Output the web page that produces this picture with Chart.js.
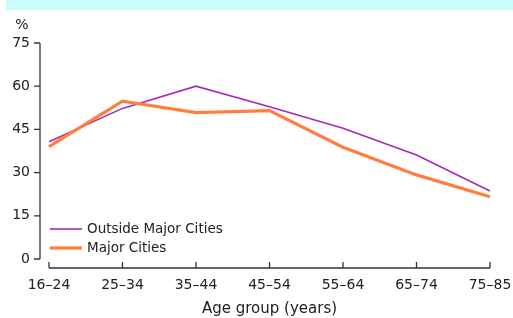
<!DOCTYPE html>
<html>
<head>
<meta charset="utf-8">
<script src="https://cdn.jsdelivr.net/npm/chart.js@4"></script>
<style>
  html, body { margin: 0; padding: 0; background: #fff; }
  #wrap { width: 513px; height: 318px; position: relative; }
</style>
</head>
<body>
<div id="wrap"><canvas id="canvas"></canvas></div>
<script>
const ageGroups = ['16–24', '25–34', '35–44', '45–54', '55–64', '65–74', '75–85'];
const outsideMajor = [40.7, 52.3, 60.0, 52.9, 45.4, 36.1, 23.6];
const majorCities = [39.0, 54.8, 50.8, 51.5, 38.8, 29.2, 21.6];
const yTicks = [0, 15, 30, 45, 60, 75];

const FONT = 'DejaVu Sans';
const INK = '#222';

// cyan strip at the top, "%" unit, split axes and the inset legend
const decor = {
    id: 'decor',
    beforeDraw(chart) {
        const ctx = chart.ctx;
        ctx.save();
        ctx.fillStyle = '#c8fcff';
        ctx.fillRect(6, 0, chart.width - 6, 10);
        ctx.restore();
    },
    afterDraw(chart) {
        const {ctx, chartArea: a, scales: {x, y}} = chart;
        ctx.save();
        ctx.strokeStyle = '#333';
        ctx.lineWidth = 1.3;
        // y axis
        const yx = a.left - 9;
        ctx.beginPath();
        ctx.moveTo(yx, y.getPixelForValue(75));
        ctx.lineTo(yx, y.getPixelForValue(0));
        yTicks.forEach(v => {
            const p = y.getPixelForValue(v);
            ctx.moveTo(yx - 6, p);
            ctx.lineTo(yx, p);
        });
        // x axis
        const xy = a.bottom + 9;
        ctx.moveTo(x.getPixelForValue(0), xy);
        ctx.lineTo(x.getPixelForValue(ageGroups.length - 1), xy);
        ageGroups.forEach((g, i) => {
            const p = x.getPixelForValue(i);
            ctx.moveTo(p, xy - 6);
            ctx.lineTo(p, xy);
        });
        ctx.stroke();

        // unit label
        ctx.fillStyle = INK;
        ctx.font = '14px ' + FONT;
        ctx.textAlign = 'center';
        ctx.textBaseline = 'middle';
        ctx.fillText('%', 22, 25);

        // legend
        ctx.textAlign = 'left';
        ctx.font = '13.5px ' + FONT;
        chart.data.datasets.forEach((ds, i) => {
            const ly = 229 + i * 19;
            ctx.strokeStyle = ds.borderColor;
            ctx.lineWidth = ds.borderWidth;
            ctx.beginPath();
            ctx.moveTo(50, ly);
            ctx.lineTo(82, ly);
            ctx.stroke();
            ctx.fillStyle = INK;
            ctx.fillText(ds.label, 87, ly);
        });
        ctx.restore();
    }
};

const ctx = document.getElementById('canvas').getContext('2d');
const myChart = new Chart(ctx, {
    type: 'line',
    data: {
        labels: ageGroups,
        datasets: [{
            label: 'Outside Major Cities',
            data: outsideMajor,
            borderColor: '#a62ab8',
            borderWidth: 1.6,
            pointRadius: 0,
            tension: 0,
            order: 1
        }, {
            label: 'Major Cities',
            data: majorCities,
            borderColor: '#ff7f3f',
            borderWidth: 3.2,
            pointRadius: 0,
            tension: 0,
            order: 0
        }]
    },
    options: {
        responsive: true,
        maintainAspectRatio: false,
        animation: false,
        layout: { padding: { top: 43, right: 23, bottom: 0, left: 0 } },
        plugins: {
            legend: { display: false },
            tooltip: { enabled: false }
        },
        scales: {
            x: {
                offset: false,
                grid: { display: false, drawTicks: false },
                border: { display: false },
                ticks: {
                    color: INK,
                    font: { family: FONT, size: 14 },
                    padding: 18,
                    maxRotation: 0,
                    autoSkip: false
                },
                title: {
                    display: true,
                    text: 'Age group (years)',
                    color: INK,
                    font: { family: FONT, size: 15 },
                    padding: { top: 0, bottom: 0 }
                },
                afterFit: s => {
                    s.height = 59;
                    s.paddingLeft = 0;
                    s.paddingRight = 0;
                }
            },
            y: {
                min: 0,
                max: 75,
                grid: { display: false, drawTicks: false },
                border: { display: false },
                afterBuildTicks: s => { s.ticks = yTicks.map(v => ({ value: v })); },
                ticks: {
                    color: INK,
                    font: { family: FONT, size: 14 },
                    padding: 19
                },
                afterFit: s => {
                    s.width = 49;
                    s.paddingTop = 0;
                    s.paddingBottom = 0;
                }
            }
        }
    },
    plugins: [decor]
});
</script>
</body>
</html>
